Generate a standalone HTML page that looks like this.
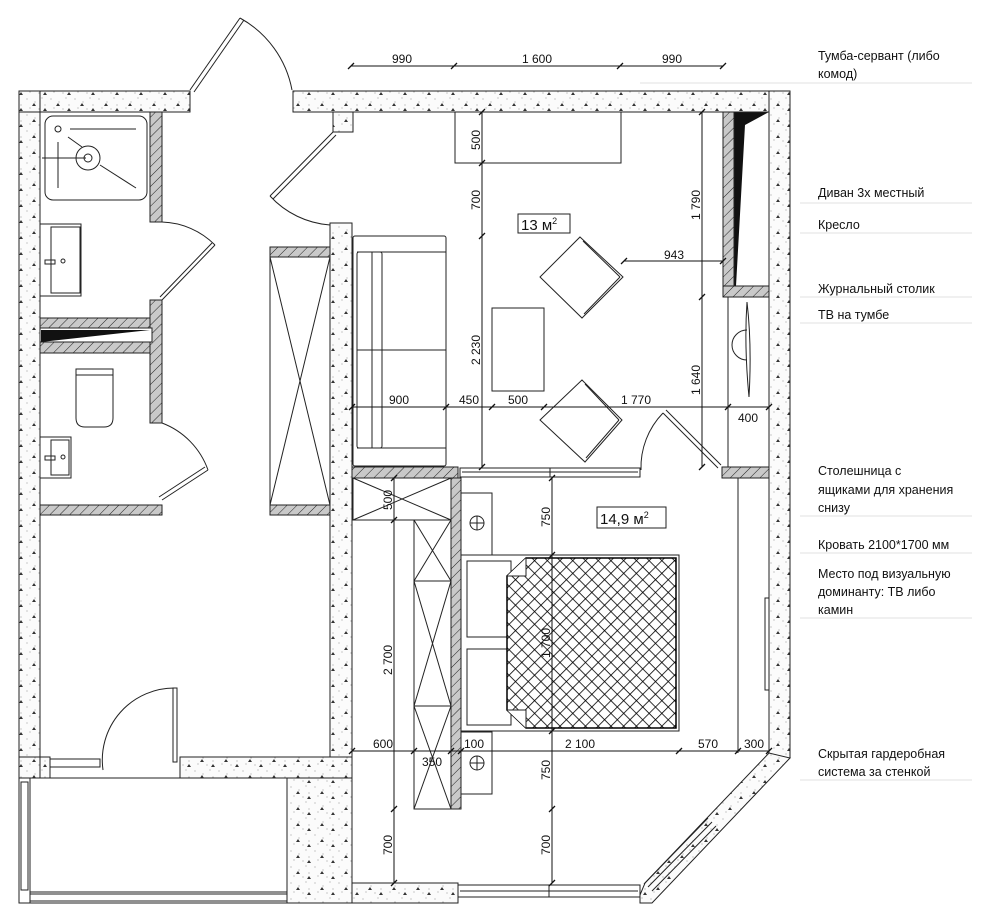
<!DOCTYPE html>
<html><head><meta charset="utf-8"><style>
html,body{margin:0;padding:0;background:#fff;}
svg{display:block;}
text{font-family:"Liberation Sans","DejaVu Sans",sans-serif;}
.d{font-size:12px;fill:#111;}
.lb{font-size:12.5px;fill:#111;}
</style></head><body>
<svg width="990" height="922" viewBox="0 0 990 922" xmlns="http://www.w3.org/2000/svg">
<defs>
<pattern id="conc" width="24" height="16" patternUnits="userSpaceOnUse">
<rect width="24" height="16" fill="#fbfbfb"/>
<circle cx="3" cy="3" r="0.5" fill="#777"/><circle cx="11" cy="6" r="0.5" fill="#777"/><circle cx="18" cy="2" r="0.5" fill="#777"/>
<circle cx="6" cy="12" r="0.5" fill="#777"/><circle cx="15" cy="13" r="0.5" fill="#777"/><circle cx="21" cy="9" r="0.5" fill="#777"/>
<path d="M8 10 l2 -3 l2 3z" fill="#333"/><path d="M19 15 l2 -3 l2 3z" fill="#333"/>
</pattern>
<pattern id="hat" width="7" height="7" patternUnits="userSpaceOnUse" patternTransform="rotate(45)">
<rect width="7" height="7" fill="#c9c9c9"/><line x1="0" y1="0" x2="0" y2="7" stroke="#222" stroke-width="1"/>
</pattern>
<pattern id="quilt" width="9" height="9" patternUnits="userSpaceOnUse" patternTransform="rotate(45)">
<rect width="9" height="9" fill="#fff"/><line x1="0" y1="0" x2="9" y2="0" stroke="#000" stroke-width="1.6"/><line x1="0" y1="0" x2="0" y2="9" stroke="#000" stroke-width="1.6"/>
</pattern>
</defs>

<g stroke="#222" stroke-width="1" fill="url(#conc)">
<rect x="19" y="91" width="21" height="687"/>
<rect x="19" y="91" width="171" height="21"/>
<rect x="293" y="91" width="497" height="21"/>
<rect x="333" y="112" width="20" height="20"/>
<rect x="330" y="223" width="22" height="660"/>
<rect x="769" y="91" width="21" height="667"/>
<rect x="180" y="757" width="172" height="21"/>
<rect x="19" y="757" width="31" height="21"/>
<rect x="287" y="778" width="65" height="125"/>
<rect x="352" y="883" width="106" height="20"/>
<polygon points="645,883 769,753 790,758 652,903 640,903 640,895"/>
</g>
<rect x="19" y="91" width="21" height="687" fill="none" stroke="#222"/>

<g stroke="#222" fill="none">
<line x1="648" y1="887" x2="712" y2="822"/><line x1="652" y1="891" x2="716" y2="826"/>
<line x1="644" y1="884" x2="708" y2="818"/>
</g>

<g stroke="#222" fill="none">
<rect x="19" y="778" width="268" height="125"/>
<rect x="21" y="782" width="7" height="108"/>
<line x1="30" y1="778" x2="30" y2="903"/>
<rect x="30" y="894" width="257" height="7"/>
<line x1="30" y1="892" x2="287" y2="892"/>
<rect x="50" y="759" width="50" height="8"/>
<line x1="100" y1="778" x2="50" y2="778"/>
<rect x="173" y="688" width="4" height="74"/>
<path d="M103 770 A72 72 0 0 1 175 688"/>
<rect x="458" y="885" width="182" height="12"/>
<line x1="460" y1="891" x2="638" y2="891"/>
<line x1="549" y1="885" x2="549" y2="897"/>
</g>

<g stroke="#222" fill="url(#hat)">
<rect x="150" y="112" width="12" height="110"/>
<rect x="150" y="300" width="12" height="123"/>
<rect x="40" y="318" width="110" height="35"/>
<rect x="40" y="505" width="122" height="10"/>
<rect x="270" y="247" width="60" height="10"/>
<rect x="270" y="505" width="60" height="10"/>
<rect x="352" y="467" width="106" height="11"/>
<rect x="722" y="467" width="47" height="11"/>
<rect x="723" y="112" width="11" height="185"/>
<rect x="723" y="286" width="46" height="11"/>
<rect x="451" y="478" width="10" height="331"/>
</g>
<rect x="40" y="328" width="112" height="14" fill="#fff" stroke="#222"/>
<polygon points="41,330 150,330 41,342" fill="#111"/>
<polygon points="734,112 769,112 745,125 736,286 734,286" fill="#111"/>
<rect x="734" y="112" width="35" height="174" fill="none" stroke="#222"/>

<g stroke="#222" fill="none">
<rect x="45" y="116" width="102" height="84" rx="8"/>
<circle cx="88" cy="158" r="12"/><circle cx="88" cy="158" r="4"/>
<line x1="42" y1="158" x2="86" y2="158"/><line x1="58" y1="142" x2="58" y2="188"/>
<line x1="68" y1="137" x2="82" y2="147"/><line x1="100" y1="165" x2="136" y2="188"/>
<line x1="70" y1="129" x2="136" y2="129"/><circle cx="58" cy="129" r="3"/>
<rect x="40" y="224" width="41" height="72"/><rect x="51" y="227" width="29" height="66"/>
<rect x="45" y="260" width="10" height="4"/><circle cx="63" cy="261" r="2"/>
<rect x="40" y="437" width="31" height="41"/><rect x="51" y="440" width="18" height="35"/>
<rect x="45" y="456" width="10" height="4"/><circle cx="63" cy="457" r="2"/>
<path d="M76 369 H113 V418 Q113 427 104 427 H85 Q76 427 76 418 Z"/><line x1="76" y1="375" x2="113" y2="375"/>
<path d="M162 222 A78 78 0 0 1 215 245"/><line x1="215" y1="245" x2="162" y2="300"/><line x1="212" y1="243" x2="160" y2="297"/>
<path d="M162 423 A78 78 0 0 1 208 470"/><line x1="208" y1="470" x2="162" y2="500"/><line x1="205" y1="467" x2="159" y2="497"/>
<line x1="190" y1="90" x2="240" y2="18"/><line x1="194" y1="92" x2="244" y2="20"/>
<path d="M240 18 A104 104 0 0 1 292 90"/>
<line x1="333" y1="132" x2="270" y2="196"/><line x1="336" y1="135" x2="273" y2="199"/>
<path d="M270 196 A90 90 0 0 0 330 225"/>
<rect x="270" y="257" width="60" height="248"/>
<line x1="270" y1="257" x2="330" y2="505"/><line x1="330" y1="257" x2="270" y2="505"/>

<rect x="455" y="112" width="166" height="51"/>
<rect x="353" y="236" width="93" height="230" rx="2"/>
<line x1="357" y1="252" x2="446" y2="252"/><line x1="357" y1="448" x2="446" y2="448"/>
<rect x="357" y="252" width="25" height="196" rx="2"/><line x1="372" y1="252" x2="372" y2="448"/>
<line x1="357" y1="350" x2="446" y2="350"/>
<rect x="492" y="308" width="52" height="83"/>
<polygon points="580,237 623,277 582,318 540,277"/>
<line x1="583" y1="241" x2="620" y2="277"/><line x1="620" y1="277" x2="584" y2="314"/>
<polygon points="582,380 622,420 585,462 540,420"/>
<line x1="585" y1="384" x2="619" y2="420"/><line x1="619" y1="420" x2="586" y2="458"/>
<rect x="518" y="214" width="52" height="19"/>
<rect x="460" y="468" width="180" height="9"/><line x1="550" y1="468" x2="550" y2="477"/>
<line x1="462" y1="472" x2="638" y2="472"/>
<line x1="663" y1="413" x2="718" y2="468"/><line x1="666" y1="410" x2="721" y2="465"/>
<path d="M663 413 A78 78 0 0 0 641 470"/>
<line x1="728" y1="297" x2="728" y2="467"/>
<line x1="738" y1="478" x2="738" y2="753"/>
<path d="M747 302 Q752 345 749 397 Q744 345 747 302Z"/>
<path d="M747 330 A15 15 0 0 0 747 360"/>
<rect x="765" y="598" width="4" height="92"/>

<rect x="353" y="478" width="98" height="42"/>
<line x1="353" y1="478" x2="451" y2="520"/><line x1="451" y1="478" x2="353" y2="520"/>
<rect x="414" y="520" width="37" height="289"/>
<line x1="414" y1="581" x2="451" y2="581"/><line x1="414" y1="706" x2="451" y2="706"/>
<line x1="414" y1="520" x2="451" y2="581"/><line x1="451" y1="520" x2="414" y2="581"/>
<line x1="414" y1="581" x2="451" y2="706"/><line x1="451" y1="581" x2="414" y2="706"/>
<line x1="414" y1="706" x2="451" y2="809"/><line x1="451" y1="706" x2="414" y2="809"/>
<rect x="461" y="493" width="31" height="62"/><rect x="461" y="732" width="31" height="62"/>
<circle cx="477" cy="523" r="7"/><line x1="470" y1="523" x2="484" y2="523"/><line x1="477" y1="516" x2="477" y2="530"/>
<circle cx="477" cy="763" r="7"/><line x1="470" y1="763" x2="484" y2="763"/><line x1="477" y1="756" x2="477" y2="770"/>
<rect x="461" y="555" width="218" height="176"/>
<rect x="467" y="561" width="44" height="76"/><rect x="467" y="649" width="44" height="76"/>
<polygon points="526,558 676,558 676,728 526,728 507,710 507,576" fill="url(#quilt)" stroke="#000" stroke-width="1.5"/>
<path d="M507 576 L526 576 L526 558" fill="#fff"/>
<path d="M507 710 L526 710 L526 728" fill="#fff"/>
<rect x="597" y="507" width="69" height="21"/>
</g>

<g stroke="#111" stroke-width="1" fill="none">
<line x1="351" y1="66" x2="723" y2="66"/>
<line x1="482" y1="112" x2="482" y2="467"/>
<line x1="702" y1="112" x2="702" y2="467"/>
<line x1="352" y1="407" x2="769" y2="407"/>
<line x1="624" y1="261" x2="723" y2="261"/>
<line x1="394" y1="478" x2="394" y2="883"/>
<line x1="552" y1="478" x2="552" y2="883"/>
<line x1="352" y1="751" x2="769" y2="751"/>
</g>
<g stroke="#111" stroke-width="1.3">
<path d="M348 69l6-6M451 69l6-6M617 69l6-6M720 69l6-6"/>
<path d="M479 115l6-6M479 166l6-6M479 239l6-6M479 470l6-6"/>
<path d="M699 115l6-6M699 300l6-6M699 470l6-6"/>
<path d="M349 410l6-6M443 410l6-6M489 410l6-6M541 410l6-6M725 410l6-6M766 410l6-6"/>
<path d="M621 264l6-6M720 264l6-6"/>
<path d="M391 481l6-6M391 523l6-6M391 812l6-6M391 886l6-6"/>
<path d="M549 481l6-6M549 558l6-6M549 734l6-6M549 812l6-6M549 886l6-6"/>
<path d="M349 754l6-6M411 754l6-6M448 754l6-6M458 754l6-6M676 754l6-6M735 754l6-6M766 754l6-6"/>
</g>
<g class="d" text-anchor="middle">
<text x="402" y="63">990</text><text x="537" y="63">1 600</text><text x="672" y="63">990</text>
<text transform="translate(480,140) rotate(-90)">500</text>
<text transform="translate(480,200) rotate(-90)">700</text>
<text transform="translate(480,350) rotate(-90)">2 230</text>
<text transform="translate(700,205) rotate(-90)">1 790</text>
<text transform="translate(700,380) rotate(-90)">1 640</text>
<text x="399" y="404">900</text><text x="469" y="404">450</text><text x="518" y="404">500</text><text x="636" y="404">1 770</text><text x="748" y="422">400</text>
<text x="674" y="259">943</text>
<text transform="translate(392,500) rotate(-90)">500</text>
<text transform="translate(392,660) rotate(-90)">2 700</text>
<text transform="translate(392,845) rotate(-90)">700</text>
<text transform="translate(550,517) rotate(-90)">750</text>
<text transform="translate(550,643) rotate(-90)">1 700</text>
<text transform="translate(550,770) rotate(-90)">750</text>
<text transform="translate(550,845) rotate(-90)">700</text>
<text x="383" y="748">600</text><text x="474" y="748">100</text><text x="580" y="748">2 100</text><text x="708" y="748">570</text><text x="754" y="748">300</text>
<text x="432" y="766">350</text>
</g>
<text x="521" y="230" font-size="15" fill="#111">13 м<tspan font-size="9" dy="-6">2</tspan></text>
<text x="600" y="524" font-size="15" fill="#111">14,9 м<tspan font-size="9" dy="-6">2</tspan></text>

<g stroke="#e2e2e2" stroke-width="1">
<line x1="640" y1="83" x2="972" y2="83"/>
<line x1="800" y1="203" x2="972" y2="203"/>
<line x1="800" y1="233" x2="972" y2="233"/>
<line x1="800" y1="297" x2="972" y2="297"/>
<line x1="800" y1="323" x2="972" y2="323"/>
<line x1="800" y1="516" x2="972" y2="516"/>
<line x1="800" y1="553" x2="972" y2="553"/>
<line x1="800" y1="618" x2="972" y2="618"/>
<line x1="800" y1="780" x2="972" y2="780"/>
</g>
<g class="lb">
<text x="818" y="60">Тумба-сервант (либо</text><text x="818" y="78">комод)</text>
<text x="818" y="197">Диван 3х местный</text>
<text x="818" y="229">Кресло</text>
<text x="818" y="293">Журнальный столик</text>
<text x="818" y="319">ТВ на тумбе</text>
<text x="818" y="475">Столешница с</text><text x="818" y="494">ящиками для хранения</text><text x="818" y="512">снизу</text>
<text x="818" y="549">Кровать 2100*1700 мм</text>
<text x="818" y="578">Место под визуальную</text><text x="818" y="596">доминанту: ТВ либо</text><text x="818" y="614">камин</text>
<text x="818" y="758">Скрытая гардеробная</text><text x="818" y="776">система за стенкой</text>
</g>
</svg>
</body></html>
